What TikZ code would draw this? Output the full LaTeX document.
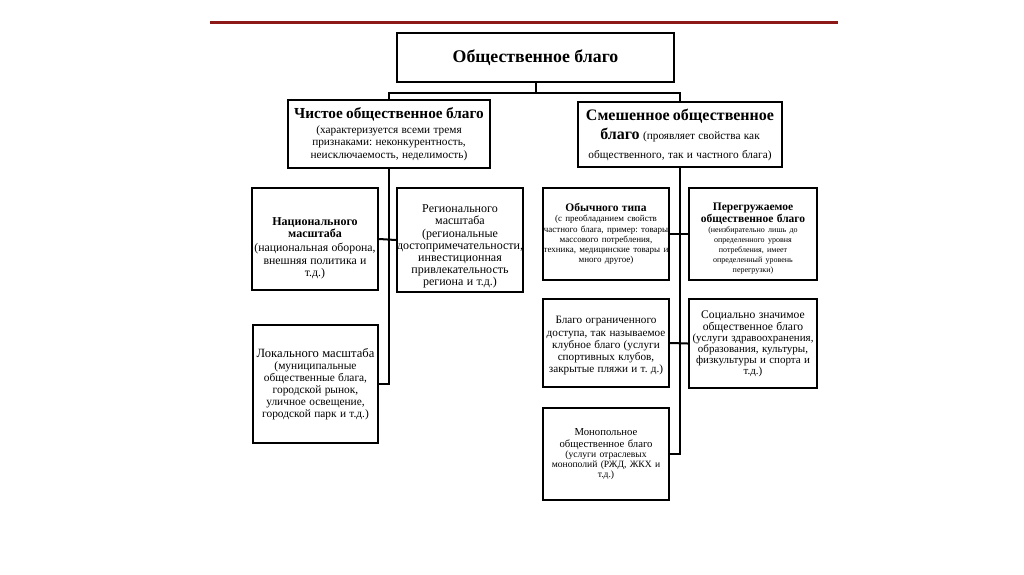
\documentclass[tikz,border=0pt]{standalone}
\usepackage{fontspec}
\setmainfont{Liberation Serif}
\usepackage{tikz}
\usetikzlibrary{positioning}
\definecolor{rule}{RGB}{140,24,24}
\frenchspacing

\newcommand{\fs}[2]{\fontsize{#1}{#2}\selectfont}
\newcommand{\lift}[1]{\rule{0pt}{#1}}

\begin{document}
\begin{tikzpicture}[
  x=1pt, y=-1pt,
  box/.style={draw, line width=2.4pt, align=center, inner sep=0pt, fill=white},
  link/.style={line width=2pt}
]
  \useasboundingbox[fill=white] (0,0) rectangle (1024,574);
  \draw[rule, line width=3pt] (210,22) -- (838,22);

  % top level
  \node[box, minimum width=277pt, minimum height=49pt, font=\bfseries\fs{17.8}{19}] (public) at (535.5,57.5) {Общественное благо};

  % second level
  \node[box, minimum width=202pt, minimum height=68pt, text width=200pt] (pure) at (389,134)
    {\fs{15.3}{16}\bfseries Чистое общественное благо\par\vspace{2.5pt}
     \fs{11.3}{12.6}\mdseries (характеризуется всеми тремя\\ признаками: неконкурентность,\\ неисключаемость, неделимость)\par};
  \node[box, minimum width=204pt, minimum height=65pt, text width=202pt] (mixed) at (680,134.5)
    {\fs{16}{19}\bfseries Смешенное общественное\\
     благо {\fs{11.3}{19}\mdseries (проявляет свойства как}\\
     {\fs{11.3}{19}\mdseries общественного, так и частного блага)}\par};

  % pure goods
  \node[box, minimum width=126pt, minimum height=102pt, text width=124pt] (national) at (315,239)
    {\fs{12}{12.5}\bfseries\lift{26pt}Национального\\ масштаба\par\vspace{1.5pt}
     \fs{11.8}{12.5}\mdseries (национальная оборона,\\ внешняя политика и\\ т.д.)\par};
  \node[box, minimum width=126pt, minimum height=104pt, text width=126pt] (regional) at (460,240)
    {\fs{12}{12.2}\lift{21pt}Регионального\\ масштаба\\ (региональные\\ достопримечательности,\\ инвестиционная\\ привлекательность\\ региона и т.д.)\par};
  \node[box, minimum width=125pt, minimum height=118pt, text width=124pt] (local) at (315.5,384)
    {\fs{12.6}{12.5}Локального масштаба\par
     \fs{11.4}{12}(муниципальные\\ общественные блага,\\ городской рынок,\\ уличное освещение,\\ городской парк и т.д.)\par};

  % mixed goods
  \node[box, minimum width=126pt, minimum height=92pt, text width=126pt] (ordinary) at (606,234)
    {\fs{11.5}{13}\bfseries Обычного типа\par
     \fs{9}{10.3}\mdseries (с преобладанием свойств\\ частного блага, пример: товары\\ массового потребления,\\ техника, медицинские товары и\\ много другое)\par};
  \node[box, minimum width=128pt, minimum height=92pt, text width=126pt] (overload) at (753,234)
    {\fs{11.5}{11.5}\bfseries\lift{17pt}Перегружаемое\\ общественное благо\par
     \fs{8}{10}\mdseries (неизбирательно лишь до\\ определенного уровня\\ потребления, имеет\\ определенный уровень\\ перегрузки)\par};
  \node[box, minimum width=126pt, minimum height=88pt, text width=126pt] (club) at (606,343)
    {\fs{11.2}{12.2}\lift{13pt}Благо ограниченного\\ доступа, так называемое\\ клубное благо (услуги\\ спортивных клубов,\\ закрытые пляжи и т. д.)\par};
  \node[box, minimum width=128pt, minimum height=89pt, text width=126pt] (social) at (753,343.5)
    {\fs{11.6}{12}Социально значимое\\ общественное благо\par
     \fs{11}{11}(услуги здравоохранения,\\ образования, культуры,\\ физкультуры и спорта и\\ т.д.)\par};
  \node[box, minimum width=126pt, minimum height=92pt, text width=124pt] (monopoly) at (606,454)
    {\fs{10.7}{11.5}Монопольное\\ общественное благо\par
     \fs{9.6}{10}(услуги отраслевых\\ монополий (РЖД, ЖКХ и\\ т.д.)\par};

  % connectors
  \draw[link] (public.south) -- ++(0,10) -| (pure.north);
  \draw[link] (public.south) -- ++(0,10) -| (mixed.north);
  \draw[link] (pure.south) |- (local.east);
  \draw[link] (national.east) -- (regional.west);
  \draw[link] (mixed.south) |- (monopoly.east);
  \draw[link] (ordinary.east) -- (overload.west);
  \draw[link] (club.east) -- (social.west);
\end{tikzpicture}
\end{document}
